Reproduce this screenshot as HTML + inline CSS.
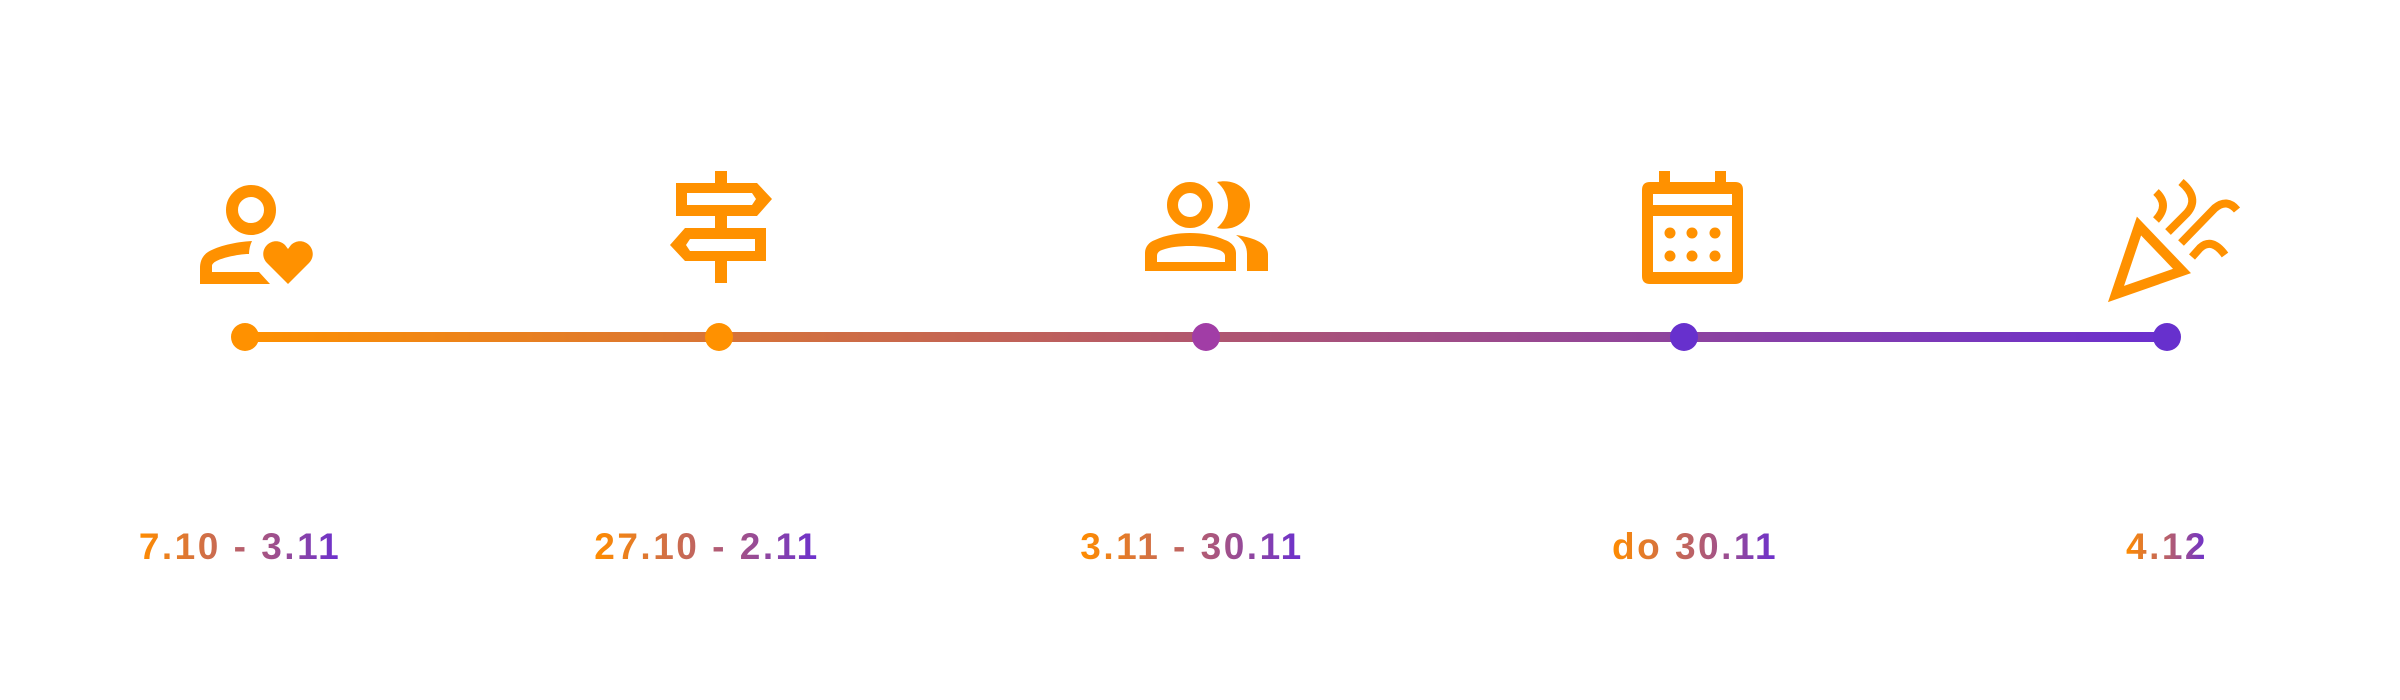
<!DOCTYPE html>
<html><head><meta charset="utf-8">
<style>
html,body{margin:0;padding:0;background:#fff;}
#c{position:relative;width:2400px;height:700px;overflow:hidden;background:#fff;}
svg{position:absolute;left:0;top:0;}
.l{position:absolute;top:522px;font-family:"Liberation Sans",sans-serif;font-weight:bold;font-size:37px;letter-spacing:2.5px;white-space:nowrap;line-height:50px;
background:linear-gradient(90deg,#ff8c00 0%,#b9606a 50%,#6a2fd0 100%);-webkit-background-clip:text;background-clip:text;color:transparent;transform:translateX(-50%);}
</style></head><body>
<div id="c">
<svg width="2400" height="700" viewBox="0 0 2400 700">
<defs>
<linearGradient id="g" x1="245" y1="0" x2="2167" y2="0" gradientUnits="userSpaceOnUse">
<stop offset="0" stop-color="#ff9100"/>
<stop offset="0.5" stop-color="#b0566f"/>
<stop offset="1" stop-color="#6a2fcf"/>
</linearGradient>
</defs>
<rect x="245" y="332" width="1922" height="10" fill="url(#g)"/>
<circle cx="245" cy="337" r="14" fill="#ff9100"/>
<circle cx="719" cy="337" r="14" fill="#ff9100"/>
<circle cx="1206" cy="337" r="14" fill="#a13da6"/>
<circle cx="1684" cy="337" r="14" fill="#6730cd"/>
<circle cx="2167" cy="337" r="14" fill="#6730cd"/>

<g fill="#ff9100">
<circle cx="251" cy="210" r="19" fill="none" stroke="#ff9100" stroke-width="12"/>
<path d="M252,241 C235,242 218,246 208,252 C202,256 200,262 200,268 L200,284 L270,284 L259,272 L212,272 L212,266 C212,262 220,259 228,257 C236,255 244,254 249,254 C249,250 250,245 252,241 Z"/>
<path d="M288,284 L267,263 C262,258 262,250 267,245 C272,240 280,240 285,245 L288,249 L291,245 C296,240 304,240 309,245 C314,250 314,258 309,263 Z"/>

<rect x="715" y="171" width="12" height="13"/>
<rect x="715" y="215" width="12" height="14"/>
<rect x="715" y="260" width="12" height="23"/>
<path fill-rule="evenodd" d="M676,183 L757,183 L772,199 L757,216 L676,216 Z M687,193 L687,205 L752,205 L756,199 L752,193 Z"/>
<path fill-rule="evenodd" d="M685,228 L766,228 L766,261 L685,261 L670,245 Z M690,239 L686,245 L690,251 L755,251 L755,239 Z"/>

<circle cx="1190" cy="205" r="17.5" fill="none" stroke="#ff9100" stroke-width="11"/>
<path d="M1217,182 C1224,188 1228,196 1228,205 C1228,214 1224,222 1217,228 C1236,232 1250,220 1250,205 C1250,190 1236,178 1217,182 Z"/>
<path fill-rule="evenodd" d="M1145,271 L1145,253 C1145,247 1149,242 1155,240 C1166,235 1178,233 1190,233 C1202,233 1214,235 1225,240 C1231,242 1236,247 1236,253 L1236,271 Z M1157,262 L1225,262 L1225,256 C1225,253 1222,251 1219,250 C1210,247 1200,246 1190,246 C1180,246 1170,247 1162,250 C1159,251 1157,253 1157,256 Z"/>
<path d="M1236,235 C1244,240 1247,247 1247,254 L1247,271 L1268,271 L1268,254 C1268,242 1250,237 1236,235 Z"/>

<rect x="1659" y="171" width="11" height="14"/>
<rect x="1715" y="171" width="11" height="14"/>
<path fill-rule="evenodd" d="M1650,182 L1735,182 Q1743,182 1743,190 L1743,276 Q1743,284 1735,284 L1650,284 Q1642,284 1642,276 L1642,190 Q1642,182 1650,182 Z M1653,194 L1653,205 L1732,205 L1732,194 Z M1653,216 L1653,272 L1732,272 L1732,216 Z"/>
<circle cx="1670" cy="233" r="5.5"/><circle cx="1692" cy="233" r="5.5"/><circle cx="1715" cy="233" r="5.5"/>
<circle cx="1670" cy="256" r="5.5"/><circle cx="1692" cy="256" r="5.5"/><circle cx="1715" cy="256" r="5.5"/>
</g>
<g fill="none" stroke="#ff9100" stroke-width="8">
<path d="M2139,226 L2116,294 L2182,271 Z" stroke-width="10" stroke-linejoin="miter"/>
<path d="M2156,192 Q2170,205 2156,220"/>
<path d="M2181,182 Q2200,198 2187,213 L2168,232"/>
<path d="M2181,243 L2215,208 Q2227,198 2237,210"/>
<path d="M2192,257 L2200,248 Q2212,237 2225,255"/>
</g>
</svg>
<div class="l" style="left:240px">7.10 - 3.11</div>
<div class="l" style="left:707px">27.10 - 2.11</div>
<div class="l" style="left:1192px">3.11 - 30.11</div>
<div class="l" style="left:1695px">do 30.11</div>
<div class="l" style="left:2167px">4.12</div>
</div>
</body></html>
